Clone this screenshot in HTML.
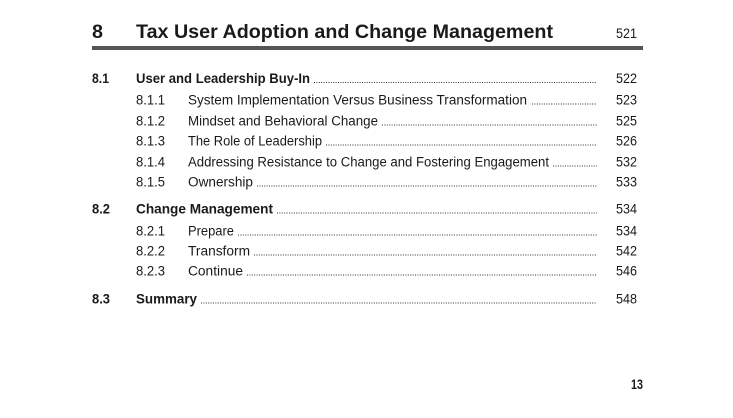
<!DOCTYPE html>
<html><head><meta charset="utf-8"><style>
html,body{margin:0;padding:0;background:#fff;}
svg{display:block;}
text{font-family:"Liberation Sans",sans-serif;fill:#1a1a1a;}
.b{font-weight:bold;}
.t{font-size:13.5px;}
</style></head><body>
<svg width="733" height="418" viewBox="0 0 733 418" xmlns="http://www.w3.org/2000/svg">
<rect width="733" height="418" fill="#fff"/>
<!-- Title -->
<text x="92" y="38" class="b" font-size="19.5" textLength="11" lengthAdjust="spacingAndGlyphs">8</text>
<text x="136" y="38" class="b" font-size="19.5" textLength="417" lengthAdjust="spacingAndGlyphs">Tax User Adoption and Change Management</text>
<text x="637" y="38" class="t" text-anchor="end" textLength="21" lengthAdjust="spacingAndGlyphs">521</text>
<rect x="92" y="46" width="551" height="4" fill="#555"/>

<g stroke="#333" stroke-width="1" stroke-dasharray="1 1.4">
<line x1="314" y1="82.5" x2="597" y2="82.5"/>
<line x1="532" y1="104" x2="597" y2="104"/>
<line x1="382" y1="125" x2="597" y2="125"/>
<line x1="326" y1="145" x2="597" y2="145"/>
<line x1="553" y1="166" x2="597" y2="166"/>
<line x1="257" y1="186" x2="597" y2="186"/>
<line x1="277" y1="213" x2="597" y2="213"/>
<line x1="238" y1="235" x2="597" y2="235"/>
<line x1="254" y1="255" x2="597" y2="255"/>
<line x1="247" y1="275" x2="597" y2="275"/>
<line x1="201" y1="303" x2="597" y2="303"/>
</g>

<!-- 8.1 -->
<text x="92" y="83" class="t b" textLength="17" lengthAdjust="spacingAndGlyphs">8.1</text>
<text x="136" y="83" class="t b" textLength="174" lengthAdjust="spacingAndGlyphs">User and Leadership Buy-In</text>
<text x="637" y="83" class="t" text-anchor="end" textLength="21" lengthAdjust="spacingAndGlyphs">522</text>

<text x="136" y="104.5" class="t" textLength="29" lengthAdjust="spacingAndGlyphs">8.1.1</text>
<text x="188" y="104.5" class="t" textLength="339" lengthAdjust="spacingAndGlyphs">System Implementation Versus Business Transformation</text>
<text x="637" y="104.5" class="t" text-anchor="end" textLength="21" lengthAdjust="spacingAndGlyphs">523</text>

<text x="136" y="125.5" class="t" textLength="29" lengthAdjust="spacingAndGlyphs">8.1.2</text>
<text x="188" y="125.5" class="t" textLength="190" lengthAdjust="spacingAndGlyphs">Mindset and Behavioral Change</text>
<text x="637" y="125.5" class="t" text-anchor="end" textLength="21" lengthAdjust="spacingAndGlyphs">525</text>

<text x="136" y="145.5" class="t" textLength="29" lengthAdjust="spacingAndGlyphs">8.1.3</text>
<text x="188" y="145.5" class="t" textLength="134" lengthAdjust="spacingAndGlyphs">The Role of Leadership</text>
<text x="637" y="145.5" class="t" text-anchor="end" textLength="21" lengthAdjust="spacingAndGlyphs">526</text>

<text x="136" y="166.5" class="t" textLength="29" lengthAdjust="spacingAndGlyphs">8.1.4</text>
<text x="188" y="166.5" class="t" textLength="361" lengthAdjust="spacingAndGlyphs">Addressing Resistance to Change and Fostering Engagement</text>
<text x="637" y="166.5" class="t" text-anchor="end" textLength="21" lengthAdjust="spacingAndGlyphs">532</text>

<text x="136" y="186.5" class="t" textLength="29" lengthAdjust="spacingAndGlyphs">8.1.5</text>
<text x="188" y="186.5" class="t" textLength="65" lengthAdjust="spacingAndGlyphs">Ownership</text>
<text x="637" y="186.5" class="t" text-anchor="end" textLength="21" lengthAdjust="spacingAndGlyphs">533</text>

<!-- 8.2 -->
<text x="92" y="213.5" class="t b" textLength="18" lengthAdjust="spacingAndGlyphs">8.2</text>
<text x="136" y="213.5" class="t b" textLength="137" lengthAdjust="spacingAndGlyphs">Change Management</text>
<text x="637" y="213.5" class="t" text-anchor="end" textLength="21" lengthAdjust="spacingAndGlyphs">534</text>

<text x="136" y="235.5" class="t" textLength="29" lengthAdjust="spacingAndGlyphs">8.2.1</text>
<text x="188" y="235.5" class="t" textLength="46" lengthAdjust="spacingAndGlyphs">Prepare</text>
<text x="637" y="235.5" class="t" text-anchor="end" textLength="21" lengthAdjust="spacingAndGlyphs">534</text>

<text x="136" y="255.5" class="t" textLength="29" lengthAdjust="spacingAndGlyphs">8.2.2</text>
<text x="188" y="255.5" class="t" textLength="62" lengthAdjust="spacingAndGlyphs">Transform</text>
<text x="637" y="255.5" class="t" text-anchor="end" textLength="21" lengthAdjust="spacingAndGlyphs">542</text>

<text x="136" y="275.5" class="t" textLength="29" lengthAdjust="spacingAndGlyphs">8.2.3</text>
<text x="188" y="275.5" class="t" textLength="55" lengthAdjust="spacingAndGlyphs">Continue</text>
<text x="637" y="275.5" class="t" text-anchor="end" textLength="21" lengthAdjust="spacingAndGlyphs">546</text>

<!-- 8.3 -->
<text x="92" y="303.5" class="t b" textLength="18" lengthAdjust="spacingAndGlyphs">8.3</text>
<text x="136" y="303.5" class="t b" textLength="61" lengthAdjust="spacingAndGlyphs">Summary</text>
<text x="637" y="303.5" class="t" text-anchor="end" textLength="21" lengthAdjust="spacingAndGlyphs">548</text>

<!-- page number -->
<text x="643" y="389" class="b" font-size="13.5" text-anchor="end" textLength="12" lengthAdjust="spacingAndGlyphs">13</text>
</svg>
</body></html>
